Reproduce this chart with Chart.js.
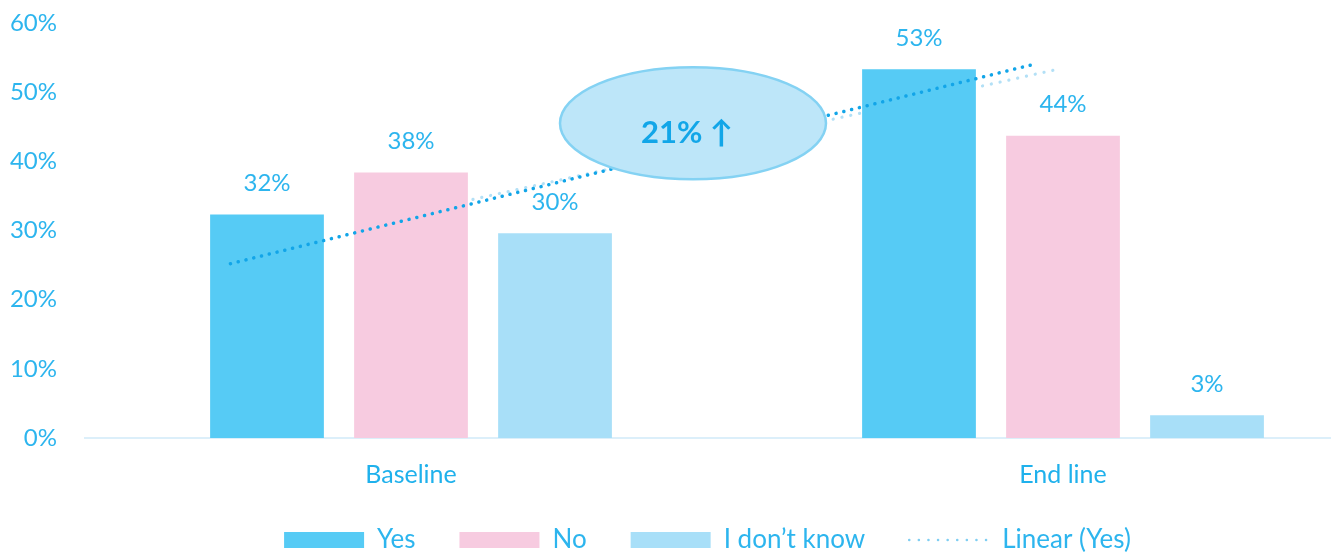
<!DOCTYPE html>
<html><head><meta charset="utf-8">
<script src="https://cdn.jsdelivr.net/npm/chart.js@4/dist/chart.umd.min.js"></script>
<style>html,body{margin:0;padding:0;background:#fff;overflow:hidden}#wrap{width:1337px;height:555px;position:relative}</style>
</head><body><div id="wrap"><canvas id="c"></canvas></div>
<script>
// ---- data ----
const CATEGORIES = ['Baseline', 'End line'];
const YES = [32.3, 53.3];
const NO = [38.4, 43.7];
const DONT_KNOW = [29.6, 3.3];
const Y_TICKS = [0, 10, 20, 30, 40, 50, 60];
// "Linear (Yes)" trendline end points (x in category units, y in %)
const TREND_X = [-0.277, 0.954];
const TREND_Y = [25.2, 54.0];
// faint shadow of the trendline
const SHADOW_X = [0.095, 0.991];
const SHADOW_Y = [34.5, 53.3];
const SERIES_NAMES = ['Yes', 'No', 'I don\u2019t know', 'Linear (Yes)'];
const CALLOUT_TEXT = '21% \u2191';
const CALLOUT_AT = [0.4325, 45.5];

// ---- styles ----
const FONT = 'Lato, "Open Sans", sans-serif';
const C_YES = '#56CBF5', C_NO = '#F7CBE0', C_DK = '#A8DFF8';
const C_TEXT = '#2DB5EE';
const C_TREND = '#12A5E8', C_SHADOW = '#B3E0F6';
const LEGEND_PAD = 44, LEGEND_FONT = 26;

const toPts = (xs, ys) => xs.map((x, i) => ({x, y: ys[i]}));
const toBars = vals => vals.map((v, i) => ({x: i, y: v}));

const extras = {
  id: 'extras',
  beforeUpdate(chart) {
    const lg = chart.legend;
    if (lg && !lg._patched) {
      const f = lg.fit;
      lg.fit = function () { f.call(this); if (this.isHorizontal()) this.height = 555 - (540 - LEGEND_PAD - LEGEND_FONT / 2); };
      lg._patched = true;
    }
  },
  afterDatasetsDraw(chart) {
    const c = chart.ctx, xs = chart.scales.x, ys = chart.scales.y;
    c.save();
    c.font = '24px ' + FONT; c.fillStyle = C_TEXT; c.textAlign = 'center'; c.textBaseline = 'middle';
    [0, 1, 2].forEach(di => {
      chart.getDatasetMeta(di).data.forEach((bar, i) => {
        const v = chart.data.datasets[di].data[i].y;
        c.fillText(Math.round(v) + '%', bar.x, bar.y - 31);
      });
    });
    const cx = xs.getPixelForValue(CALLOUT_AT[0]), cy = ys.getPixelForValue(CALLOUT_AT[1]);
    c.beginPath(); c.ellipse(cx, cy, 133, 56, 0, 0, Math.PI * 2);
    c.fillStyle = '#BDE6F9'; c.fill();
    c.lineWidth = 2.5; c.strokeStyle = '#84D2F3'; c.stroke();
    c.font = 'bold 31px ' + FONT; c.fillStyle = '#12A6E8';
    c.fillText(CALLOUT_TEXT, cx - 6, cy + 10);
    c.restore();
  }
};

new Chart(document.getElementById('c'), {
  data: {
    datasets: [
      {type: 'bar', label: SERIES_NAMES[0], data: toBars(YES), backgroundColor: C_YES, order: 1},
      {type: 'bar', label: SERIES_NAMES[1], data: toBars(NO), backgroundColor: C_NO, order: 1},
      {type: 'bar', label: SERIES_NAMES[2], data: toBars(DONT_KNOW), backgroundColor: C_DK, order: 1},
      {type: 'line', label: SERIES_NAMES[3], data: toPts(TREND_X, TREND_Y), borderColor: C_TREND, borderWidth: 3.5,
       borderDash: [0.1, 7.9], borderCapStyle: 'round', pointRadius: 0, fill: false, order: 0},
      {type: 'line', label: 'shadow', data: toPts(SHADOW_X, SHADOW_Y), borderColor: C_SHADOW, borderWidth: 3.2,
       borderDash: [0.1, 8.9], borderCapStyle: 'round', pointRadius: 0, fill: false, order: 2}
    ]
  },
  options: {
    responsive: true, maintainAspectRatio: false, animation: false, devicePixelRatio: 1,
    layout: {padding: {top: 23, right: 7, bottom: 0, left: 0}},
    datasets: {bar: {categoryPercentage: 0.6626, barPercentage: 0.79, borderWidth: 0}},
    scales: {
      x: {
        type: 'linear', min: -0.5, max: 1.4095, bounds: 'data', offset: false,
        afterBuildTicks: s => { s.ticks = CATEGORIES.map((_, i) => ({value: i})); },
        afterFit: s => { s.height = 45; },
        ticks: {callback: v => CATEGORIES[v] ?? '', padding: 22, maxRotation: 0, autoSkip: false,
                color: '#1FB1EC', font: {family: FONT, size: 25}},
        grid: {display: false, drawTicks: false, offset: false},
        border: {display: true, color: '#DCEFFA', width: 2}
      },
      y: {
        type: 'linear', min: 0, max: 60,
        afterBuildTicks: s => { s.ticks = Y_TICKS.map(v => ({value: v})); },
        afterFit: s => { s.width = 85; s.paddingTop = 14; s.paddingBottom = 14; },
        ticks: {callback: v => v + '%', padding: 28, color: C_TEXT, font: {family: FONT, size: 24}},
        grid: {display: false, drawTicks: false},
        border: {display: false}
      }
    },
    plugins: {
      tooltip: {enabled: false},
      legend: {
        position: 'bottom', fullSize: false,
        labels: {
          usePointStyle: true, pointStyleWidth: 80, boxHeight: 16, padding: LEGEND_PAD,
          color: C_TEXT, font: {family: FONT, size: LEGEND_FONT},
          generateLabels: chart => chart.data.datasets.slice(0, 4).map((ds, i) => i < 3 ? {
            text: ds.label, fillStyle: ds.backgroundColor, strokeStyle: ds.backgroundColor, lineWidth: 0,
            pointStyle: 'rect', hidden: false, datasetIndex: i, fontColor: C_TEXT
          } : {
            text: ds.label, fillStyle: 'rgba(0,0,0,0)', strokeStyle: '#7FCEF2', lineWidth: 2.5,
            lineDash: [0.1, 9.5], lineCap: 'round', pointStyle: 'line', hidden: false, datasetIndex: i, fontColor: C_TEXT
          })
        }
      }
    }
  },
  plugins: [extras]
});
</script></body></html>
